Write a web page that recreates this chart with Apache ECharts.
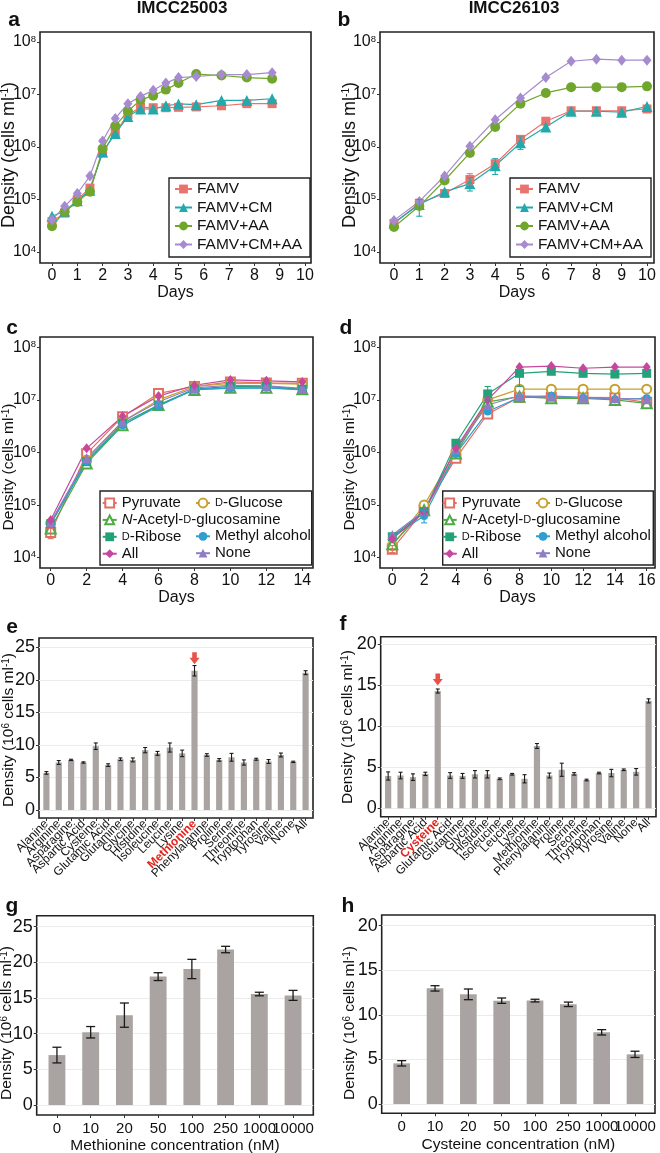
<!DOCTYPE html>
<html><head><meta charset="utf-8">
<script src="https://cdn.jsdelivr.net/npm/echarts/dist/echarts.min.js"></script>
<style>html,body{margin:0;padding:0;background:#fff}#c{width:660px;height:1153px}</style>
</head><body><div id="c"></div>
<script>
// ---------------- DATA ----------------
// Panel a (IMCC25003)
const daysA = [0, 0.5, 1, 1.5, 2, 2.5, 3, 3.5, 4, 4.5, 5, 5.7, 6.7, 7.7, 8.7];
const aFAMV   = [3.8e4, 5.5e4, 1.0e5, 1.65e5, 7.7e5, 1.9e6, 4.1e6, 5.7e6, 5.6e6, 5.6e6, 5.7e6, 5.8e6, 6.1e6, 6.7e6, 6.7e6];
const aFAMVCM = [4.8e4, 6.0e4, 9.5e4, 1.5e5, 8.0e5, 1.8e6, 3.8e6, 5.3e6, 5.3e6, 6.1e6, 6.6e6, 6.4e6, 7.7e6, 7.7e6, 8.3e6];
const aFAMVAA = [3.1e4, 5.9e4, 9.0e4, 1.4e5, 9.3e5, 2.5e6, 4.8e6, 7.9e6, 9.5e6, 1.24e7, 1.66e7, 2.45e7, 2.3e7, 2.1e7, 2.0e7];
const aFAMVCMAA = [4.1e4, 7.4e4, 1.3e5, 2.8e5, 1.3e6, 3.5e6, 6.7e6, 9.2e6, 1.2e7, 1.65e7, 2.1e7, 2.2e7, 2.4e7, 2.4e7, 2.6e7];

// Panel b (IMCC26103)
const daysB = [0, 1, 2, 3, 4, 5, 6, 7, 8, 9, 10];
const bFAMV   = [3.5e4, 8.5e4, 1.3e5, 2.4e5, 4.8e5, 1.4e6, 3.1e6, 4.9e6, 4.9e6, 4.9e6, 5.3e6];
const bFAMVCM = [3.6e4, 8.0e4, 1.4e5, 2.0e5, 4.4e5, 1.2e6, 2.4e6, 4.8e6, 4.8e6, 4.6e6, 5.9e6];
const bFAMVAA = [3.0e4, 7.5e4, 2.3e5, 7.7e5, 2.4e6, 6.7e6, 1.07e7, 1.37e7, 1.38e7, 1.38e7, 1.43e7];
const bFAMVCMAA = [4.0e4, 9.2e4, 2.8e5, 1.03e6, 3.3e6, 8.6e6, 2.1e7, 4.3e7, 4.7e7, 4.5e7, 4.5e7];
const bErrFAMV   = [[3, 1.9e5, 3.1e5], [8, 4.3e6, 5.5e6]];
const bErrFAMVCM = [[1, 4.8e4, 1.0e5], [3, 1.45e5, 2.6e5], [4, 3.0e5, 6.0e5], [5, 9.0e5, 1.55e6], [8, 4.0e6, 5.6e6]];

// Panel c (IMCC25003, carbon sources)
const daysC = [0, 2, 4, 6, 8, 10, 12, 14];
const cPyr  = [3.0e4, 9.5e5, 4.8e6, 1.33e7, 1.8e7, 2.2e7, 2.1e7, 2.07e7];
const cGlc  = [4.5e4, 7.2e5, 3.9e6, 1.0e7, 1.8e7, 2.07e7, 2.07e7, 2.0e7];
const cNAG  = [3.6e4, 6.2e5, 3.3e6, 8.0e6, 1.55e7, 1.7e7, 1.7e7, 1.6e7];
const cRib  = [4.4e4, 6.7e5, 3.6e6, 8.0e6, 1.6e7, 1.8e7, 1.8e7, 1.6e7];
const cMeOH = [4.4e4, 6.8e5, 3.3e6, 7.6e6, 1.6e7, 1.65e7, 1.7e7, 1.55e7];
const cAll  = [5.2e4, 1.2e6, 4.9e6, 1.18e7, 1.9e7, 2.4e7, 2.3e7, 2.2e7];
const cNone = [4.7e4, 7.8e5, 3.9e6, 9.2e6, 1.7e7, 1.9e7, 1.85e7, 1.65e7];
const cErrPyr  = [[0, 2.3e4, 3.6e4]];
const cErrMeOH = [[6, 6.5e6, 8.8e6]];

// Panel d (IMCC26103, carbon sources)
const daysD = [0, 2, 4, 6, 8, 10, 12, 14, 16];
const dPyr  = [1.45e4, 8.0e4, 7.8e5, 5.4e6, 1.12e7, 1.12e7, 1.12e7, 1.1e7, 9.0e6];
const dGlc  = [1.7e4, 1.0e5, 1.05e6, 1.0e7, 1.6e7, 1.6e7, 1.6e7, 1.6e7, 1.6e7];
const dNAG  = [1.8e4, 8.0e4, 9.6e5, 9.2e6, 1.15e7, 1.07e7, 1.07e7, 1.0e7, 8.6e6];
const dRib  = [2.5e4, 7.5e4, 1.5e6, 1.3e7, 3.2e7, 3.5e7, 3.2e7, 3.1e7, 3.2e7];
const dMeOH = [2.5e4, 6.2e4, 9.4e5, 6.0e6, 1.12e7, 1.2e7, 1.1e7, 1.03e7, 1.07e7];
const dAll  = [2.3e4, 7.2e4, 1.2e6, 1.0e7, 4.2e7, 4.4e7, 4.0e7, 4.2e7, 4.2e7];
const dNone = [2.7e4, 7.7e4, 1.15e6, 8.0e6, 1.2e7, 1.15e7, 1.1e7, 1.07e7, 1.03e7];
const dErrPyr  = [[0, 1.25e4, 1.7e4]];
const dErrRib  = [[6, 1.0e7, 1.8e7], [8, 1.8e7, 3.6e7]];
const dErrMeOH = [[2, 4.6e4, 8.0e4]];

// Tick values
const logTicks = [1e4, 1e5, 1e6, 1e7, 1e8];
const dayTicksAB = [0, 1, 2, 3, 4, 5, 6, 7, 8, 9, 10];
const dayTicksC = [0, 2, 4, 6, 8, 10, 12, 14];
const dayTicksD = [0, 2, 4, 6, 8, 10, 12, 14, 16];
const ticks25 = [0, 5, 10, 15, 20, 25];
const ticks20 = [0, 5, 10, 15, 20];

// Panels e, f (amino acids)
const aaCats = ['Alanine','Arginine','Asparagine','Aspartic Acid','Cysteine','Glutamic Acid','Glutamine','Glycine','Histidine','Isoleucine','Leucine','Lysine','Methionine','Phenylalanine','Proline','Serine','Threonine','Tryptophan','Tyrosine','Valine','None','All'];
const eVals = [5.7, 7.3, 7.7, 7.3, 9.8, 6.9, 7.8, 7.7, 9.2, 8.7, 9.6, 8.7, 21.4, 8.45, 7.7, 8.1, 7.3, 7.8, 7.45, 8.45, 7.4, 21.1];
const eErr  = [0.2, 0.3, 0.1, 0.1, 0.5, 0.2, 0.2, 0.3, 0.4, 0.3, 0.7, 0.5, 0.8, 0.2, 0.2, 0.6, 0.4, 0.15, 0.3, 0.3, 0.1, 0.3];
const fVals = [3.94, 4.0, 3.8, 4.2, 14.3, 4.0, 3.95, 4.15, 4.15, 3.6, 4.15, 3.6, 7.6, 4.0, 4.7, 4.2, 3.45, 4.3, 4.3, 4.7, 4.45, 13.1];
const fErr  = [0.5, 0.4, 0.4, 0.2, 0.25, 0.35, 0.3, 0.45, 0.45, 0.1, 0.1, 0.5, 0.3, 0.3, 0.8, 0.15, 0.1, 0.1, 0.45, 0.1, 0.4, 0.25];
const eArrow = ['Methionine', 23.3];
const fArrow = ['Cysteine', 15.7];

// Panels g, h (concentrations, nM)
const concCats = ['0', '10', '20', '50', '100', '250', '1000', '10000'];
const gVals = [7.0, 10.2, 12.6, 18.0, 19.07, 21.8, 15.56, 15.37];
const gErr  = [1.1, 0.8, 1.7, 0.55, 1.35, 0.45, 0.25, 0.7];
const hVals = [4.56, 12.97, 12.3, 11.59, 11.6, 11.18, 8.04, 5.57];
const hErr  = [0.3, 0.3, 0.6, 0.3, 0.15, 0.25, 0.3, 0.35];

// ---------------- STYLE / BUILD ----------------
const FONT = '"Liberation Sans", Arial, Helvetica, sans-serif';
const INK = '#111';
const TICK = {show: true, length: 3, lineStyle: {color: '#333', width: 1}};
const NOLINE = {show: false, onZero: false};
const grids = [], xAxes = [], yAxes = [], series = [], graphics = [], legends = [];

const ST = {
  'FAMV':       {symbol: 'rect', size: 9, color: '#E9736D'},
  'FAMV+CM':    {symbol: 'triangle', size: 11, color: '#22A9AC'},
  'FAMV+AA':    {symbol: 'circle', size: 10, color: '#6FA62B'},
  'FAMV+CM+AA': {symbol: 'diamond', size: [9, 11], color: '#A68BD0'},
  'Pyruvate':   {symbol: 'emptyRect', size: 9, color: '#E36E63', empty: true},
  'D-Glucose':  {symbol: 'emptyCircle', size: 9, color: '#C7A12E', empty: true},
  'N-Acetyl-D-glucosamine': {symbol: 'emptyTriangle', size: 10, color: '#4DAA44', empty: true},
  'D-Ribose':   {symbol: 'rect', size: 9, color: '#23A27A'},
  'Methyl alcohol': {symbol: 'circle', size: 8, color: '#2D9FD0'},
  'All':        {symbol: 'diamond', size: [8, 10], color: '#C5489E'},
  'None':       {symbol: 'triangle', size: 10, color: '#8F7DC4'}
};

function boxGrid(b) {
  return {left: b[0], top: b[1], width: b[2] - b[0], height: b[3] - b[1], outerBoundsMode: 'none',
    show: true, borderColor: '#222', borderWidth: 1.6, backgroundColor: 'transparent'};
}
function supLabel(v) { return '10{s|' + Math.round(Math.log10(v)) + '}'; }

// p.box = plot frame; p.xa/p.xb = pixel of first/last x tick; p.ya/p.yb = pixel of 1e8 / 1e4
function logPanel(p) {
  const gi = grids.length;
  const b = p.box;
  const t0 = p.xticks[0], t1 = p.xticks[p.xticks.length - 1];
  const ux = (t1 - t0) / (p.xb - p.xa);
  const xmin = t0 - (p.xa - b[0]) * ux, xmax = t1 + (b[2] - p.xb) * ux;
  const dec = (p.yb - p.ya) / 4;
  const lmax = 8 + (p.ya - b[1]) / dec, lmin = 4 - (b[3] - p.yb) / dec;
  grids.push(boxGrid(b));
  xAxes.push({gridIndex: gi, type: 'value', min: xmin, max: xmax,
    axisLine: NOLINE,
    axisTick: Object.assign({customValues: p.xticks}, TICK),
    axisLabel: {customValues: p.xticks, fontSize: 16, color: INK, margin: 5, fontFamily: FONT},
    splitLine: {show: false}, name: 'Days', nameLocation: 'middle', nameGap: p.nameGap,
    nameTextStyle: {fontSize: 16, color: INK, fontFamily: FONT}});
  yAxes.push({gridIndex: gi, type: 'log', logBase: 10, min: Math.pow(10, lmin), max: Math.pow(10, lmax),
    axisLine: NOLINE,
    axisTick: Object.assign({customValues: logTicks}, TICK),
    minorTick: {show: false}, splitLine: {show: false},
    axisLabel: {customValues: logTicks, fontSize: 16, color: INK, margin: 4, fontFamily: FONT, formatter: supLabel,
      rich: {s: {fontSize: 9.5, verticalAlign: 'top', color: INK, fontFamily: FONT}}}});
  return gi;
}

function addLine(gi, name, xs, ys) {
  const st = ST[name];
  series.push({type: 'line', name, xAxisIndex: gi, yAxisIndex: gi,
    data: xs.map((x, i) => [x, ys[i]]),
    symbol: st.symbol, symbolSize: st.size, color: st.color,
    itemStyle: {color: st.color, borderWidth: st.empty ? 1.3 : 0},
    lineStyle: {color: st.color, width: 1.2},
    emphasis: {disabled: true}, animation: false, z: 3});
}

function addErr(gi, data, color, cap, lw) {
  series.push({type: 'custom', xAxisIndex: gi, yAxisIndex: gi, data, silent: true, z: 4, animation: false,
    encode: {x: 0, y: [1, 2]},
    renderItem(params, api) {
      const x = api.value(0);
      const lo = api.coord([x, api.value(1)]), hi = api.coord([x, api.value(2)]);
      const st = {stroke: color, lineWidth: lw};
      return {type: 'group', children: [
        {type: 'line', shape: {x1: lo[0], y1: lo[1], x2: hi[0], y2: hi[1]}, style: st},
        {type: 'line', shape: {x1: lo[0] - cap, y1: lo[1], x2: lo[0] + cap, y2: lo[1]}, style: st},
        {type: 'line', shape: {x1: hi[0] - cap, y1: hi[1], x2: hi[0] + cap, y2: hi[1]}, style: st}
      ]};
    }});
}

const ARROW = 'path://M27,0 L73,0 L73,45 L100,45 L50,100 L0,45 L27,45 Z';

// p.yTop = pixel of top tick value, p.yZero = pixel of 0
function barPanel(p) {
  const n = p.cats.length;
  const b = p.box;
  const bw = b[2] - b[0];
  const inset = bw / (n + 0.2) * 0.1;
  const top = p.ticks[p.ticks.length - 1];
  const u = top / (p.yZero - p.yTop);
  const ymin = -(b[3] - p.yZero) * u, ymax = top + (p.yTop - b[1]) * u;
  const gA = grids.length;
  grids.push(boxGrid(b));
  xAxes.push({gridIndex: gA, type: 'value', show: false, min: 0, max: 1, axisLine: NOLINE});
  yAxes.push({gridIndex: gA, type: 'value', min: ymin, max: ymax,
    axisLine: NOLINE,
    axisTick: Object.assign({customValues: p.ticks}, TICK),
    axisLabel: {customValues: p.ticks, fontSize: 18, color: INK, margin: 4, fontFamily: FONT},
    splitLine: {show: true, lineStyle: {color: '#EBEBEB', width: 1}}});
  const gB = grids.length;
  grids.push({left: b[0] + inset, top: b[1], width: bw - 2 * inset, height: b[3] - b[1], outerBoundsMode: 'none'});
  const hl = p.highlight;
  xAxes.push({gridIndex: gB, type: 'category', data: p.cats,
    axisLine: NOLINE,
    axisTick: Object.assign({alignWithLabel: true, interval: 0}, TICK),
    axisLabel: {interval: 0, color: INK, fontFamily: FONT, fontSize: p.labelSize, rotate: p.rotate || 0, margin: p.labelMargin,
      formatter: v => (hl && v === hl) ? '{r|' + v + '}' : v,
      rich: {r: {color: '#E3261C', fontWeight: 'bold', fontSize: p.labelSize, fontFamily: FONT}}},
    name: p.xName || '', nameLocation: 'middle', nameGap: p.nameGap || 0,
    nameTextStyle: {fontSize: 15.5, color: INK, fontFamily: FONT}});
  yAxes.push({gridIndex: gB, type: 'value', min: ymin, max: ymax, show: false, axisLine: NOLINE});
  series.push({type: 'bar', xAxisIndex: gB, yAxisIndex: gB, data: p.vals, barWidth: '50%',
    itemStyle: {color: '#A9A4A1'}, silent: true, animation: false, z: 2});
  addErr(gB, p.vals.map((v, i) => [i, v - p.errs[i], v + p.errs[i]]), '#1a1a1a', p.cap, p.lw);
  if (p.arrow) {
    series.push({type: 'scatter', xAxisIndex: gB, yAxisIndex: gB, data: [p.arrow],
      symbol: ARROW, symbolSize: [10, 12], itemStyle: {color: '#E3261C'}, silent: true, z: 5, animation: false});
  }
}

// ---- log panels
const gA = logPanel({box: [40, 32, 311, 263], xa: 52, xb: 305, ya: 42, yb: 252, xticks: dayTicksAB, nameGap: 16});
addLine(gA, 'FAMV', daysA, aFAMV);
addLine(gA, 'FAMV+CM', daysA, aFAMVCM);
addLine(gA, 'FAMV+AA', daysA, aFAMVAA);
addLine(gA, 'FAMV+CM+AA', daysA, aFAMVCMAA);

const gBp = logPanel({box: [380, 32, 654, 263], xa: 394, xb: 647, ya: 42, yb: 252, xticks: dayTicksAB, nameGap: 16});
addErr(gBp, bErrFAMV, ST['FAMV'].color, 3, 1.1);
addErr(gBp, bErrFAMVCM, ST['FAMV+CM'].color, 3, 1.1);
addLine(gBp, 'FAMV', daysB, bFAMV);
addLine(gBp, 'FAMV+CM', daysB, bFAMVCM);
addLine(gBp, 'FAMV+AA', daysB, bFAMVAA);
addLine(gBp, 'FAMV+CM+AA', daysB, bFAMVCMAA);

const gC = logPanel({box: [40, 337, 313, 568], xa: 50.7, xb: 302.3, ya: 347.3, yb: 557.7, xticks: dayTicksC, nameGap: 15});
addErr(gC, cErrPyr, ST['Pyruvate'].color, 3, 1.1);
addErr(gC, cErrMeOH, ST['Methyl alcohol'].color, 3, 1.1);
addLine(gC, 'Pyruvate', daysC, cPyr);
addLine(gC, 'D-Glucose', daysC, cGlc);
addLine(gC, 'N-Acetyl-D-glucosamine', daysC, cNAG);
addLine(gC, 'D-Ribose', daysC, cRib);
addLine(gC, 'Methyl alcohol', daysC, cMeOH);
addLine(gC, 'None', daysC, cNone);
addLine(gC, 'All', daysC, cAll);

const gD = logPanel({box: [380, 337, 655, 568], xa: 392.3, xb: 646.7, ya: 347.3, yb: 557.7, xticks: dayTicksD, nameGap: 15});
addErr(gD, dErrPyr, ST['Pyruvate'].color, 3, 1.1);
addErr(gD, dErrRib, ST['D-Ribose'].color, 3, 1.1);
addErr(gD, dErrMeOH, ST['Methyl alcohol'].color, 3, 1.1);
addLine(gD, 'Pyruvate', daysD, dPyr);
addLine(gD, 'D-Glucose', daysD, dGlc);
addLine(gD, 'N-Acetyl-D-glucosamine', daysD, dNAG);
addLine(gD, 'D-Ribose', daysD, dRib);
addLine(gD, 'Methyl alcohol', daysD, dMeOH);
addLine(gD, 'None', daysD, dNone);
addLine(gD, 'All', daysD, dAll);

// ---- bar panels
barPanel({box: [39, 638, 313, 818], yTop: 647.3, yZero: 810, ticks: ticks25, cats: aaCats, vals: eVals, errs: eErr,
  cap: 2, lw: 1.1, labelSize: 12, rotate: 45, labelMargin: 4, highlight: 'Methionine', arrow: eArrow});
barPanel({box: [380.7, 636.7, 656, 816.7], yTop: 644.3, yZero: 808.3, ticks: ticks20, cats: aaCats, vals: fVals, errs: fErr,
  cap: 2, lw: 1.1, labelSize: 12, rotate: 45, labelMargin: 4, highlight: 'Cysteine', arrow: fArrow});
barPanel({box: [36.7, 915.7, 313.3, 1115], yTop: 926.7, yZero: 1105, ticks: ticks25, cats: concCats, vals: gVals, errs: gErr,
  cap: 4.5, lw: 1.3, labelSize: 15, labelMargin: 6, xName: 'Methionine concentration (nM)', nameGap: 23});
barPanel({box: [381.7, 915, 655, 1113.3], yTop: 925.7, yZero: 1104, ticks: ticks20, cats: concCats, vals: hVals, errs: hErr,
  cap: 4.5, lw: 1.3, labelSize: 15, labelMargin: 6, xName: 'Cysteine concentration (nM)', nameGap: 23});

// ---- legends
const famvNames = ['FAMV', 'FAMV+CM', 'FAMV+AA', 'FAMV+CM+AA'];
function legendBase(left, top, data, fs, iw) {
  return {left, top, orient: 'vertical', data, padding: 0, itemGap: fs > 15 ? 2.5 : 1.9,
    itemWidth: iw, itemHeight: 11, selectedMode: false, z: 6,
    formatter: n => n.replace(/^N-/, '{it|N}-').replace(/D-/g, '{sc|D}-'),
    textStyle: {fontSize: fs, color: INK, fontFamily: FONT,
      rich: {it: {fontStyle: 'italic', fontSize: fs, color: INK, fontFamily: FONT},
             sc: {fontSize: 11, color: INK, fontFamily: FONT}}}};
}
legends.push(legendBase(174, 181, famvNames, 15.5, 17));
legends.push(legendBase(515, 181, famvNames, 15.5, 17));
legends.push(legendBase(101.7, 495.5, ['Pyruvate', 'N-Acetyl-D-glucosamine', 'D-Ribose', 'All'], 15, 14));
legends.push(legendBase(195, 495.5, ['D-Glucose'], 15, 14));
legends.push(legendBase(195, 528.8, ['Methyl alcohol', 'None'], 15, 14));
legends.push(legendBase(441.7, 495.5, ['Pyruvate', 'N-Acetyl-D-glucosamine', 'D-Ribose', 'All'], 15, 14));
legends.push(legendBase(535, 495.5, ['D-Glucose'], 15, 14));
legends.push(legendBase(535, 528.8, ['Methyl alcohol', 'None'], 15, 14));

function legendRect(b) {
  graphics.push({type: 'rect', z: 5, silent: true,
    shape: {x: b[0], y: b[1], width: b[2] - b[0], height: b[3] - b[1]},
    style: {fill: '#fff', stroke: '#222', lineWidth: 1.4}});
}
legendRect([169, 178, 310, 257]);
legendRect([510, 178, 651, 257]);
legendRect([100, 491, 311.7, 565]);
legendRect([442.7, 491, 653.3, 565]);

// ---- texts
function txt(x, y, text, size, weight) {
  graphics.push({type: 'text', x, y, z: 60, silent: true,
    style: {text, fontSize: size, fontWeight: weight || 'normal', fontFamily: FONT, fill: INK,
      align: 'center', verticalAlign: 'middle'}});
}
txt(182, 8, 'IMCC25003', 17, 'bold');
txt(514, 8, 'IMCC26103', 17, 'bold');
const letters = [['a', 14, 20], ['b', 344, 20], ['c', 12, 328], ['d', 346, 328], ['e', 12, 627], ['f', 343, 624], ['g', 12, 906], ['h', 348, 906]];
letters.forEach(l => txt(l[1], l[2], l[0], 21, 'bold'));

function yName(x, y, text, size) {
  graphics.push({type: 'text', x, y, rotation: Math.PI / 2, z: 60, silent: true,
    style: {text, fontSize: size, fontFamily: FONT, fill: INK, align: 'center', verticalAlign: 'middle',
      rich: {s: {fontSize: 10, verticalAlign: 'top', fontFamily: FONT, fill: INK}}}});
}
yName(9, 155, 'Density (cells ml{s|-1})', 18);
yName(350, 155, 'Density (cells ml{s|-1})', 18);
yName(9, 467, 'Density (cells ml{s|-1})', 15.5);
yName(350, 467, 'Density (cells ml{s|-1})', 15.5);
yName(9, 730, 'Density (10{s|6} cells ml{s|-1})', 15.5);
yName(348, 727, 'Density (10{s|6} cells ml{s|-1})', 15.5);
yName(7, 1023, 'Density (10{s|6} cells ml{s|-1})', 15.5);
yName(350, 1023, 'Density (10{s|6} cells ml{s|-1})', 15.5);

const chart = echarts.init(document.getElementById('c'), null, {renderer: 'canvas'});
chart.setOption({
  backgroundColor: '#fff',
  animation: false,
  textStyle: {fontFamily: FONT},
  grid: grids, xAxis: xAxes, yAxis: yAxes, series, legend: legends, graphic: graphics
});
</script></body></html>
